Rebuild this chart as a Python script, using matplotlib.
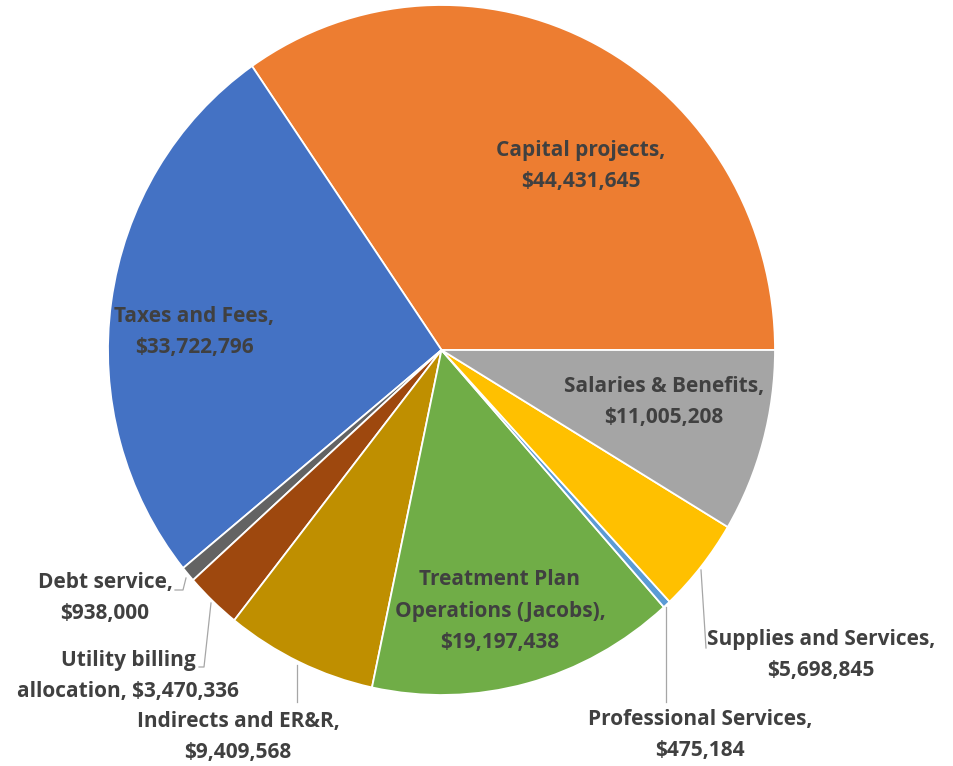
import matplotlib.pyplot as plt
from matplotlib.lines import Line2D

# slice data, counter-clockwise from 3 o'clock
categories = ["Capital projects", "Taxes and Fees", "Debt service",
              "Utility billing\nallocation", "Indirects and ER&R",
              "Treatment Plan\nOperations (Jacobs)", "Professional Services",
              "Supplies and Services", "Salaries & Benefits"]
amounts = [44431645, 33722796, 938000, 3470336, 9409568,
           19197438, 475184, 5698845, 11005208]
colors = ["#ED7D31", "#4472C4", "#636363", "#9E480E", "#BF8F00",
          "#70AD47", "#5B9BD5", "#FFC000", "#A5A5A5"]

W, H = 954, 766
# label centres in pixels (x, y from top); amount on same line or next
label_pos = [(581, 166), (194, 332), (105, 598), (128, 676), (238, 737),
             (500, 611), (700, 735), (821, 655), (664, 402)]
same_line = [False, False, False, True, False, False, False, False, False]
leaders = [
    [(175, 590), (183, 590), (186, 578)],
    [(199, 667), (204, 667), (211, 603)],
    [(297, 665), (297, 702)],
    [(701, 570), (706, 648)],
    [(666, 607), (666, 702)],
]

fig = plt.figure(figsize=(W / 100, H / 100), dpi=100)
# pie bounding box in pixels: x 108..775, y 5..695
left, top, right, bottom = 108, 5, 775, 695
ax = fig.add_axes([left / W, 1 - bottom / H, (right - left) / W, (bottom - top) / H])
ax.pie(amounts, colors=colors, startangle=0, counterclock=True,
       wedgeprops=dict(edgecolor="white", linewidth=1.3))
ax.set_aspect("auto")
ax.set_xlim(-1, 1)
ax.set_ylim(-1, 1)
ax.axis("off")

for name, val, pos, same in zip(categories, amounts, label_pos, same_line):
    txt = name + (", $" if same else ",\n$") + f"{val:,}"
    fig.text(pos[0] / W, 1 - pos[1] / H, txt, ha="center", va="center",
             multialignment="center", fontsize=15, fontweight="bold",
             color="#404040", family="Open Sans", linespacing=1.68)

for pts in leaders:
    xs = [p[0] / W for p in pts]
    ys = [1 - p[1] / H for p in pts]
    fig.add_artist(Line2D(xs, ys, color="#A6A6A6", linewidth=0.9,
                          transform=fig.transFigure))

fig.savefig("out.png", dpi=100)
